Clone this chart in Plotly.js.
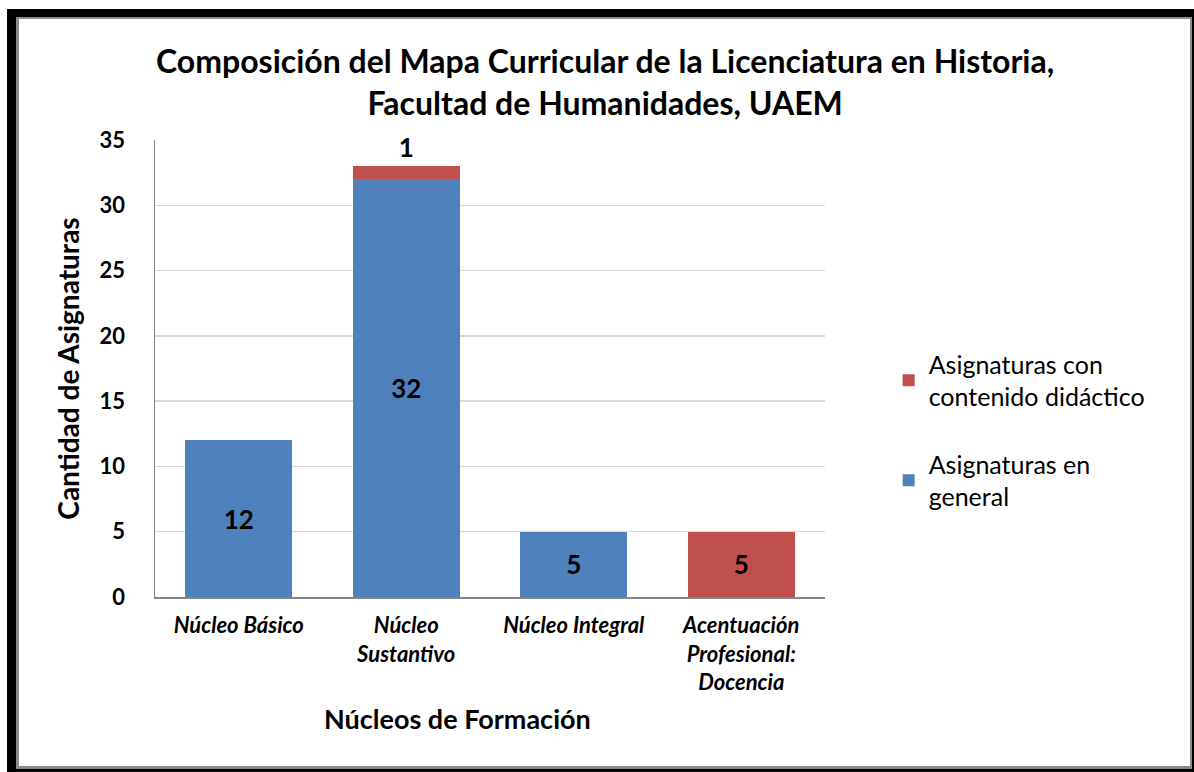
<!DOCTYPE html>
<html>
<head>
<meta charset="utf-8">
<script src="https://cdn.plot.ly/plotly-3.0.1.min.js"></script>
<style>
  html, body { margin:0; padding:0; background:#fff; }
  #frame-black { position:absolute; left:7px; top:9px; width:1187px; height:763px; background:#000; }
  #frame-gray { position:absolute; left:16px; top:17px; width:1176px; height:752px; background:#8c8c8c; }
  #frame-white { position:absolute; left:19px; top:19px; width:1171px; height:747px; background:#fff; }
  #chart { position:absolute; left:0; top:0; width:1194px; height:772px; }
</style>
</head>
<body>
<div id="frame-black"></div>
<div id="frame-gray"></div>
<div id="frame-white"></div>
<div id="chart"></div>
<script>
const categories = ["Núcleo Básico", "Núcleo<br>Sustantivo", "Núcleo Integral", "Acentuación<br>Profesional:<br>Docencia"];
const generalValues = [12, 32, 5, null];
const didacticoValues = [null, 1, null, 5];
const seriesNames = ["Asignaturas en<br>general", "Asignaturas con<br>contenido didáctico"];
const yTicks = [0, 5, 10, 15, 20, 25, 30, 35];
const chartTitle = "Composición del Mapa Curricular de la Licenciatura en Historia,<br>Facultad de Humanidades, UAEM";
const xTitle = "Núcleos de Formación";
const yTitle = "Cantidad de Asignaturas";

const FONT = "Lato, 'Open Sans', sans-serif";
const labelFont = { family: FONT, size: 26, color: "#000", weight: "bold" };

const traceGeneral = {
  type: "bar",
  name: seriesNames[0],
  legendgroup: "g1",
  legendrank: 2,
  x: categories,
  y: generalValues,
  marker: { color: "#4F81BD" },
  text: generalValues.map(v => v == null ? "" : String(v)),
  textposition: "inside",
  insidetextanchor: "middle",
  textfont: labelFont,
  insidetextfont: labelFont,
  textangle: 0,
  hoverinfo: "skip"
};
const traceDidactico = {
  type: "bar",
  name: seriesNames[1],
  legendgroup: "g2",
  legendrank: 1,
  x: categories,
  y: didacticoValues,
  marker: { color: "#C0504D" },
  text: didacticoValues.map(v => v == null ? "" : String(v)),
  textposition: didacticoValues.map(v => v == null ? "none" : (v < 2 ? "outside" : "inside")),
  insidetextanchor: "middle",
  textfont: labelFont,
  insidetextfont: labelFont,
  outsidetextfont: labelFont,
  textangle: 0,
  cliponaxis: false,
  hoverinfo: "skip"
};

const layout = {
  width: 1194,
  height: 772,
  paper_bgcolor: "rgba(0,0,0,0)",
  plot_bgcolor: "rgba(0,0,0,0)",
  barmode: "stack",
  bargap: 0.36,
  margin: { l: 155, r: 369, t: 140, b: 175 },
  font: { family: FONT, color: "#000" },
  xaxis: {
    type: "category",
    showgrid: false,
    showline: true,
    linecolor: "#868686",
    linewidth: 1.5,
    ticks: "",
    tickfont: { family: FONT, size: 22, color: "#000", weight: "bold", style: "italic" },
    ticklabelstandoff: 8,
    fixedrange: true
  },
  yaxis: {
    range: [0, 35],
    tickvals: yTicks,
    ticktext: yTicks.map(String),
    showgrid: true,
    gridcolor: "#d9d9d9",
    gridwidth: 1.5,
    showline: true,
    linecolor: "#868686",
    linewidth: 1.5,
    zeroline: false,
    ticks: "",
    ticklabelstandoff: 24,
    tickfont: { family: FONT, size: 22, color: "#000", weight: "bold" },
    title: {
      text: yTitle,
      font: { family: FONT, size: 28, color: "#000", weight: "bold" },
      standoff: 12
    },
    fixedrange: true
  },
  showlegend: true,
  legend: {
    x: 1.095, xanchor: "left",
    y: 0.365, yanchor: "middle",
    traceorder: "grouped",
    font: { family: FONT, size: 25, color: "#000" },
    tracegroupgap: 32,
    bgcolor: "rgba(0,0,0,0)"
  },
  annotations: [
    {
      text: chartTitle,
      xref: "paper", yref: "paper",
      x: 0.672, y: 1.127,
      xanchor: "center", yanchor: "middle",
      showarrow: false,
      font: { family: FONT, size: 32, color: "#000", weight: "bold" }
    },
    {
      text: xTitle,
      xref: "paper", yref: "paper",
      x: 0.452, y: -0.265,
      xanchor: "center", yanchor: "middle",
      showarrow: false,
      font: { family: FONT, size: 27, color: "#000", weight: "bold" }
    }
  ]
};

Plotly.newPlot("chart", [traceGeneral, traceDidactico], layout, { displayModeBar: false, staticPlot: true });
</script>
</body>
</html>
